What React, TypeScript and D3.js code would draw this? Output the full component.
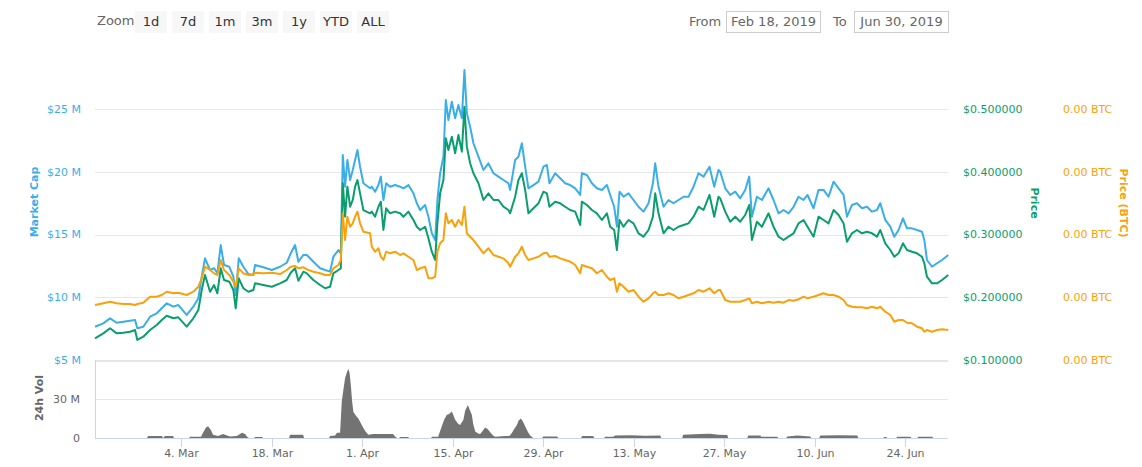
import React from "react";
import * as d3 from "d3";

// ---------- DATA ----------
// day offsets from 19 Feb 2019 00:00 (local)
const days = [
  -0.33, 0.95, 1.99, 3.02, 4.05, 5.08, 5.86, 6.21, 7.14, 8.18,
  9.21, 9.99, 10.76, 11.78, 12.55, 13.85, 14.87, 15.65, 16.17, 16.68,
  17.46, 18.08, 18.59, 19.11, 19.62, 20.44, 21.06, 21.43, 21.9, 22.61,
  23.38, 24.16, 24.42, 25.7, 27.0, 28.29, 29.32, 29.94, 30.61, 31.12,
  31.89, 32.42, 33.44, 34.48, 35.25, 36.02, 36.53, 37.31, 37.68, 37.99,
  38.34, 38.7, 39.12, 39.53, 39.89, 40.25, 40.66, 41.17, 42.21, 42.47,
  42.98, 43.5, 43.87, 44.27, 44.69, 45.31, 46.08, 46.85, 47.36, 48.14,
  48.91, 49.44, 49.95, 50.72, 51.23, 51.76, 52.27, 52.62, 53.04, 53.55,
  53.92, 54.32, 54.85, 55.36, 55.87, 56.4, 56.8, 57.17, 57.68, 58.19,
  58.97, 59.74, 60.51, 61.29, 62.06, 62.83, 63.61, 63.87, 64.64, 65.15,
  65.68, 66.19, 66.7, 67.47, 68.25, 69.02, 69.55, 69.95, 70.83, 71.61,
  72.38, 73.15, 73.93, 74.7, 74.96, 75.74, 76.51, 77.28, 78.06, 78.83,
  79.34, 79.96, 80.38, 80.78, 81.4, 82.17, 82.95, 83.72, 84.49, 85.27,
  85.95, 86.3, 86.81, 87.59, 88.36, 89.13, 89.91, 90.68, 91.45, 92.23,
  93.0, 93.77, 94.7, 95.43, 96.09, 96.36, 97.13, 97.9, 98.68, 99.45,
  100.22, 100.84, 101.26, 102.03, 102.81, 103.83, 104.6, 105.38, 106.15, 106.92,
  107.7, 108.47, 109.24, 109.86, 110.79, 111.56, 112.34, 113.11, 113.89, 114.66,
  115.43, 115.96, 116.73, 117.5, 118.28, 119.05, 119.83, 120.6, 121.11, 121.88,
  122.66, 123.28, 123.94, 124.62, 125.24, 126.01, 126.79, 127.56, 127.92, 128.33,
  129.11, 129.88, 130.66, 131.63,
];

// Market cap, millions USD
const marketCapM = [
  7.65, 7.92, 8.32, 7.97, 8.05, 8.13, 8.19, 7.53, 7.65, 8.45,
  8.72, 9.12, 9.52, 9.25, 9.38, 8.59, 9.25, 9.92, 11.64, 13.1,
  12.17, 12.31, 11.91, 14.16, 12.57, 12.43, 11.64, 10.18, 13.1, 12.43,
  11.85, 11.77, 12.57, 12.39, 12.17, 12.43, 12.75, 13.5, 14.16, 12.83,
  13.37, 13.37, 12.83, 12.31, 12.17, 12.04, 13.23, 13.76, 13.5, 21.33,
  18.81, 20.94, 19.34, 20.14, 20.94, 21.73, 20.4, 19.08, 18.68, 18.81,
  18.41, 18.94, 19.61, 17.75, 19.08, 18.81, 18.94, 18.81, 18.68, 18.94,
  18.28, 17.49, 16.95, 17.35, 16.42, 15.1, 14.56, 17.75, 19.88, 21.2,
  25.72, 24.12, 25.58, 24.26, 25.32, 24.26, 28.11, 24.66, 23.59, 22.27,
  21.2, 20.14, 20.67, 19.88, 19.61, 19.34, 19.08, 18.55, 20.94, 21.2,
  22.27, 20.4, 18.68, 18.94, 19.21, 20.4, 20.54, 19.08, 19.88, 19.48,
  19.08, 18.94, 18.68, 18.15, 19.88, 19.74, 19.08, 18.68, 18.55, 18.94,
  18.15, 17.21, 15.62, 18.41, 18.01, 18.28, 17.75, 17.21, 16.82, 17.49,
  19.08, 20.67, 18.81, 17.21, 17.75, 17.49, 17.75, 18.01, 18.01, 18.81,
  19.88, 19.61, 20.4, 18.81, 20.14, 20.0, 18.68, 18.15, 18.41, 17.88,
  18.55, 19.61, 16.42, 18.01, 17.75, 18.68, 17.75, 16.69, 16.95, 16.69,
  17.21, 18.01, 17.75, 18.15, 17.09, 18.55, 18.55, 18.01, 19.21, 18.68,
  18.15, 16.42, 17.35, 17.49, 17.09, 17.21, 16.82, 16.95, 17.49, 16.16,
  15.62, 14.82, 15.36, 16.29, 15.49, 15.49, 15.36, 15.22, 14.56, 12.97,
  12.43, 12.71, 12.97, 13.37,
];

// Price, USD
const priceUsd = [
  0.1346, 0.1425, 0.1505, 0.1425, 0.1435, 0.1451, 0.1478, 0.1319, 0.1371, 0.1478,
  0.1558, 0.1637, 0.1706, 0.1665, 0.168, 0.1531, 0.1665, 0.1797, 0.2116, 0.2355,
  0.2088, 0.2195, 0.2063, 0.2461, 0.2275, 0.2248, 0.2116, 0.1824, 0.2302, 0.2143,
  0.2088, 0.2116, 0.2222, 0.2195, 0.2168, 0.2222, 0.2275, 0.2391, 0.2461, 0.2264,
  0.2407, 0.2381, 0.2275, 0.2195, 0.2143, 0.2168, 0.2381, 0.2434, 0.2461, 0.3816,
  0.3284, 0.3762, 0.3443, 0.355, 0.3762, 0.3869, 0.3656, 0.339, 0.3338, 0.3364,
  0.3284, 0.3443, 0.3523, 0.3072, 0.3417, 0.3338, 0.3364, 0.3338, 0.3284, 0.3364,
  0.3231, 0.3124, 0.3072, 0.3124, 0.2939, 0.2726, 0.2594, 0.3178, 0.3656, 0.3869,
  0.4533, 0.4346, 0.4559, 0.4294, 0.4586, 0.432, 0.5037, 0.44, 0.4135, 0.3976,
  0.3816, 0.355, 0.3656, 0.355, 0.355, 0.3443, 0.339, 0.3338, 0.3602, 0.3869,
  0.3976, 0.371, 0.3338, 0.3417, 0.3497, 0.3682, 0.3656, 0.3443, 0.3523, 0.3497,
  0.3443, 0.339, 0.3364, 0.3151, 0.3523, 0.347, 0.339, 0.3338, 0.3231, 0.3338,
  0.3124, 0.3072, 0.2753, 0.3231, 0.3124, 0.3231, 0.3178, 0.3019, 0.2965, 0.3072,
  0.3284, 0.3656, 0.3338, 0.3019, 0.3124, 0.3072, 0.3124, 0.3151, 0.3178, 0.3284,
  0.3443, 0.339, 0.363, 0.3284, 0.3602, 0.3576, 0.3364, 0.3204, 0.3284, 0.3204,
  0.3311, 0.347, 0.2912, 0.3204, 0.3124, 0.3338, 0.3124, 0.2965, 0.2912, 0.2965,
  0.3019, 0.3178, 0.3231, 0.3124, 0.2965, 0.3284, 0.3231, 0.3178, 0.339, 0.3311,
  0.3178, 0.2885, 0.3019, 0.3072, 0.3019, 0.3045, 0.3019, 0.2965, 0.3072, 0.286,
  0.2753, 0.2646, 0.27, 0.286, 0.2753, 0.2726, 0.27, 0.2646, 0.2541, 0.2327,
  0.2222, 0.2222, 0.2275, 0.2355,
];

// Price in satoshi (1e-8 BTC)
const priceBtcSats = [
  2876, 2904, 2929, 2904, 2892, 2892, 2876, 2892, 2913, 3009,
  3009, 3036, 3088, 3063, 3072, 3036, 3088, 3168, 3302, 3487,
  3434, 3382, 3355, 3594, 3434, 3355, 3248, 3168, 3461, 3382,
  3355, 3355, 3391, 3382, 3391, 3370, 3434, 3487, 3498, 3461,
  3477, 3445, 3407, 3382, 3355, 3355, 3461, 3514, 3594, 4338,
  3912, 4284, 4124, 4178, 4284, 4364, 4178, 4045, 4019, 3806,
  3726, 3780, 3646, 3594, 3726, 3700, 3726, 3673, 3700, 3646,
  3594, 3434, 3461, 3487, 3302, 3302, 3327, 3726, 3860, 3912,
  4338, 4178, 4231, 4124, 4231, 4151, 4443, 4019, 3965, 3912,
  3806, 3700, 3780, 3673, 3646, 3620, 3541, 3487, 3646, 3700,
  3806, 3673, 3594, 3620, 3646, 3700, 3710, 3646, 3657, 3620,
  3594, 3567, 3514, 3382, 3514, 3487, 3461, 3382, 3434, 3327,
  3275, 3302, 3088, 3222, 3168, 3088, 3116, 3009, 2929, 2983,
  3063, 3088, 3036, 3036, 3063, 3036, 2983, 3009, 3036, 3063,
  3116, 3088, 3143, 3063, 3116, 3116, 2956, 2929, 2929, 2929,
  2956, 2983, 2904, 2929, 2904, 2929, 2913, 2929, 2913, 2956,
  2945, 2967, 3009, 2983, 3009, 3036, 3063, 3036, 3036, 3009,
  2956, 2876, 2849, 2840, 2840, 2824, 2849, 2824, 2849, 2770,
  2717, 2610, 2637, 2637, 2594, 2585, 2531, 2505, 2451, 2478,
  2451, 2478, 2489, 2478,
];

// 24h volume, millions USD
const volDays = [
  -0.33, 7.71, 7.87, 10.03, 10.19, 10.5, 11.73, 11.89, 14.21, 14.36,
  16.06, 16.37, 16.84, 17.15, 17.61, 17.92, 18.7, 19.47, 20.09, 20.55,
  21.6, 22.1, 22.41, 22.88, 23.18, 23.49, 24.27, 24.42, 25.5, 25.66,
  29.68, 29.83, 31.85, 32.0, 35.87, 36.02, 36.79, 37.1, 37.57, 37.83,
  38.11, 38.34, 38.65, 38.85, 39.04, 39.23, 39.43, 39.63, 40.05, 40.4,
  40.82, 41.17, 41.59, 41.95, 42.67, 45.77, 46.08, 46.39, 46.7, 46.85,
  48.09, 48.24, 51.64, 51.8, 52.73, 53.3, 53.66, 54.08, 54.43, 54.85,
  55.05, 55.36, 55.82, 56.13, 56.37, 56.64, 56.91, 57.33, 57.6, 57.94,
  58.15, 58.46, 58.92, 59.23, 59.7, 60.0, 60.39, 60.78, 61.24, 61.55,
  63.1, 63.72, 64.03, 64.5, 64.91, 65.19, 65.53, 65.8, 66.19, 66.58,
  66.96, 67.43, 68.82, 68.97, 71.14, 71.3, 74.85, 75.0, 76.71, 76.87,
  78.41, 78.56, 79.8, 80.11, 82.43, 84.75, 87.07, 87.23, 90.48, 90.63,
  93.26, 94.81, 96.05, 97.44, 97.6, 100.54, 100.69, 102.55, 102.7, 105.18,
  105.33, 106.57, 106.72, 108.27, 110.28, 110.44, 111.67, 111.83, 114.92, 117.55,
  117.71, 121.57, 121.72, 122.03, 122.18, 123.58, 123.74, 125.75, 125.9, 126.83,
  126.99, 129.15, 129.31, 131.63,
];
const volValues = [
  0, 0, 1.5, 1.5, 0, 1.5, 1.5, 0, 0, 1,
  1, 4, 8, 9, 6, 2.5, 1.5, 3, 2, 1.2,
  1.5, 3, 4, 3, 1, 0, 0, 0.8, 0.8, 0,
  0, 2.5, 2.5, 0, 0, 1.5, 2, 4, 4, 28,
  38, 46, 51, 53, 50, 40.7, 28, 20, 17, 15,
  11, 7.6, 4.5, 2.5, 3, 3, 1, 0, 0, 0.8,
  0.8, 0, 0, 1, 1, 9, 14, 17.8, 18.5, 20.4,
  18, 14, 11, 10, 12, 14, 21, 25.4, 22, 17.8,
  11, 5, 3.5, 3, 6, 8, 7, 4.5, 2, 1,
  1.5, 1.5, 3, 7, 10, 13.5, 15, 13, 9, 5,
  2, 0, 0, 1.2, 1.2, 0, 0, 1.5, 1.5, 0,
  0, 0.9, 0.9, 2, 2.2, 1.8, 2, 0, 0, 2.5,
  3, 3.3, 2.5, 2.3, 0, 0, 2, 2, 1, 1,
  0, 0, 1.2, 2, 1.2, 0, 0, 2, 2.2, 2,
  0, 0, 0.8, 0.8, 0, 0, 1, 1, 0, 0,
  1, 1, 0, 0,
];

const xTickDates = ["2019-03-04", "2019-03-18", "2019-04-01", "2019-04-15", "2019-04-29", "2019-05-13", "2019-05-27", "2019-06-10", "2019-06-24"];
const mcapTicks = [5, 10, 15, 20, 25];
const priceTicks = [0.1, 0.2, 0.3, 0.4, 0.5];
const btcTicks = [0.00002, 0.00003, 0.00004, 0.00005, 0.00006];
const volTicks = [0, 30];
const zoomButtons = ["1d", "7d", "1m", "3m", "1y", "YTD", "ALL"];
const fromLabel = "Feb 18, 2019";
const toLabel = "Jun 30, 2019";

// ---------- STYLE ----------
const FONT = "'DejaVu Sans', 'Lucida Grande', Arial, sans-serif";
const BLUE = "#3aaee8";
const GREEN = "#0a9e6e";
const ORANGE = "#f9a10b";
const GRID = "#e6e6e6";
const AXIS = "#ccd6eb";

const BASE = new Date(2019, 1, 19).getTime();
const DAY = 86400000;
const toDate = (d: number) => new Date(BASE + d * DAY);
const parseDay = (s: string) => {
  const [y, m, d] = s.split("-").map(Number);
  return new Date(y, m - 1, d);
};

export default function App() {
  const W = 1142;
  const H = 467;
  const left = 95;
  const right = 948;
  const mainTop = 109;
  const mainBottom = 360;
  const volTop = 360;
  const volBottom = 438;

  const x = d3
    .scaleTime()
    .domain([new Date(2019, 1, 18, 16), new Date(2019, 5, 30, 14)])
    .range([left, right]);
  const yM = d3.scaleLinear().domain([5, 25]).range([mainBottom, mainTop]);
  const yP = d3.scaleLinear().domain([0.1, 0.5]).range([mainBottom, mainTop]);
  const yB = d3.scaleLinear().domain([0.00002, 0.00006]).range([mainBottom, mainTop]);
  const yV = d3.scaleLinear().domain([0, 60]).range([volBottom, volTop]);

  const n = Math.min(days.length, marketCapM.length, priceUsd.length, priceBtcSats.length);
  const idx = d3.range(n);

  const lineM = d3
    .line<number>()
    .x((i) => x(toDate(days[i])))
    .y((i) => yM(marketCapM[i]));
  const lineP = d3
    .line<number>()
    .x((i) => x(toDate(days[i])))
    .y((i) => yP(priceUsd[i]));
  const lineB = d3
    .line<number>()
    .x((i) => x(toDate(days[i])))
    .y((i) => yB(priceBtcSats[i] / 1e8));

  const vn = Math.min(volDays.length, volValues.length);
  const vIdx = d3.range(vn);
  const areaV = d3
    .area<number>()
    .x((i) => x(toDate(volDays[i])))
    .y0(yV(0))
    .y1((i) => yV(volValues[i]));

  const fmtPrice = d3.format("$.6f");
  const fmtBtc = (v: number) => `${d3.format(".2f")(v)} BTC`;
  const fmtM = (v: number) => `$${v} M`;
  const fmtVol = (v: number) => (v === 0 ? "0" : `${v} M`);
  const fmtDate = d3.timeFormat("%-d. %b");

  return (
    <svg
      width={W}
      height={H}
      style={{ position: "absolute", left: 0, top: 0, display: "block", background: "#fff" }}
      fontFamily={FONT}
    >
      {/* Zoom buttons */}
      <text x={97} y={25} fontSize={13} fill="#666">Zoom</text>
      {zoomButtons.map((b, i) => (
        <g key={b}>
          <rect x={135 + i * 37} y={11} width={32} height={22} fill="#f7f7f7" />
          <text x={151 + i * 37} y={26} fontSize={13} fill="#333" textAnchor="middle">{b}</text>
        </g>
      ))}
      {/* Date range */}
      <text x={689} y={26} fontSize={13} fill="#666">From</text>
      <rect x={726.5} y={11.5} width={94} height={21} fill="#fff" stroke="#ccc" />
      <text x={773.5} y={26} fontSize={13} fill="#666" textAnchor="middle">{fromLabel}</text>
      <text x={833} y={26} fontSize={13} fill="#666">To</text>
      <rect x={854.5} y={11.5} width={94} height={21} fill="#fff" stroke="#ccc" />
      <text x={901.5} y={26} fontSize={13} fill="#666" textAnchor="middle">{toLabel}</text>

      {/* main grid */}
      {mcapTicks.map((t) => (
        <line key={"g" + t} x1={left} x2={right} y1={Math.round(yM(t)) + 0.5} y2={Math.round(yM(t)) + 0.5} stroke={GRID} />
      ))}
      {/* volume grid */}
      {volTicks.map((t) =>
        t === 0 ? null : (
          <line key={"vg" + t} x1={left} x2={right} y1={Math.round(yV(t)) + 0.5} y2={Math.round(yV(t)) + 0.5} stroke={GRID} />
        )
      )}
      <line x1={left} x2={right} y1={yV(60) + 1.5} y2={yV(60) + 1.5} stroke={GRID} />

      {/* left labels */}
      {mcapTicks.map((t) => (
        <text key={"ml" + t} x={81} y={yM(t)} dy="0.35em" fontSize={11} fill={BLUE} textAnchor="end">
          {fmtM(t)}
        </text>
      ))}
      {volTicks.map((t) => (
        <text key={"vl" + t} x={80} y={yV(t)} dy="0.35em" fontSize={11} fill="#666" textAnchor="end">
          {fmtVol(t)}
        </text>
      ))}
      {/* right labels */}
      {priceTicks.map((t) => (
        <text key={"pl" + t} x={963} y={yP(t)} dy="0.35em" fontSize={11} fill={GREEN}>
          {fmtPrice(t)}
        </text>
      ))}
      {btcTicks.map((t) => (
        <text key={"bl" + t} x={1063} y={yB(t)} dy="0.35em" fontSize={11} fill={ORANGE}>
          {fmtBtc(t)}
        </text>
      ))}

      {/* axis titles */}
      <text transform="translate(34,202) rotate(-90)" textAnchor="middle" dy="0.35em" fontSize={11} fontWeight="bold" fill={BLUE}>Market Cap</text>
      <text transform="translate(39,398) rotate(-90)" textAnchor="middle" dy="0.35em" fontSize={11} fontWeight="bold" fill="#666">24h Vol</text>
      <text transform="translate(1035,203) rotate(90)" textAnchor="middle" dy="0.35em" fontSize={11} fontWeight="bold" fill={GREEN}>Price</text>
      <text transform="translate(1124,203) rotate(90)" textAnchor="middle" dy="0.35em" fontSize={11} fontWeight="bold" fill={ORANGE}>Price (BTC)</text>

      {/* volume */}
      <path d={areaV(vIdx) || ""} fill="#737373" />
      <line x1={left + 0.5} x2={left + 0.5} y1={volTop} y2={volBottom} stroke={AXIS} />
      <line x1={left} x2={right} y1={volBottom + 0.5} y2={volBottom + 0.5} stroke={AXIS} />
      {xTickDates.map((s) => {
        const xx = Math.round(x(parseDay(s))) + 0.5;
        return (
          <g key={s}>
            <line x1={xx} x2={xx} y1={volBottom} y2={volBottom + 9} stroke={AXIS} />
            <text x={xx} y={volBottom + 19} fontSize={11} fill="#666" textAnchor="middle">
              {fmtDate(parseDay(s))}
            </text>
          </g>
        );
      })}

      {/* lines */}
      <path d={lineM(idx) || ""} fill="none" stroke={BLUE} strokeWidth={2} strokeLinejoin="round" />
      <path d={lineP(idx) || ""} fill="none" stroke={GREEN} strokeWidth={2} strokeLinejoin="round" />
      <path d={lineB(idx) || ""} fill="none" stroke={ORANGE} strokeWidth={2} strokeLinejoin="round" />
    </svg>
  );
}
